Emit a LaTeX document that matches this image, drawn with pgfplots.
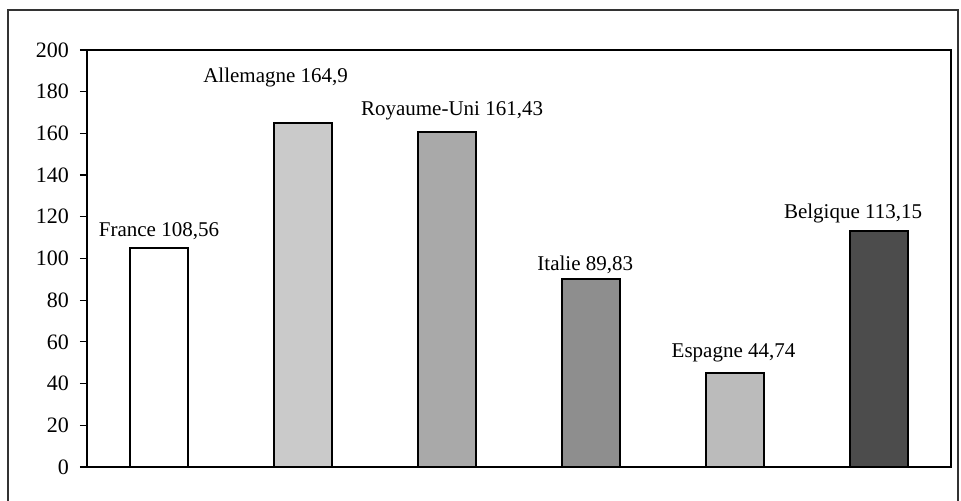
\documentclass[border=0pt]{standalone}
\usepackage{pgfplots}
\pgfplotsset{compat=1.18}
\usepackage{fontspec}
\setmainfont{Liberation Serif}
\definecolor{cAll}{HTML}{CACACA}
\definecolor{cRU}{HTML}{A9A9A9}
\definecolor{cIt}{HTML}{8E8E8E}
\definecolor{cEs}{HTML}{BBBBBB}
\definecolor{cBe}{HTML}{4C4C4C}
\begin{document}
\begin{tikzpicture}
\clip (0pt,0pt) rectangle (480.5pt,250.5pt);
\draw[line width=0.7pt, black!80] (4pt,-3pt) rectangle (479pt,245.5pt);
\begin{axis}[
  at={(43.5pt,17pt)}, anchor=south west,
  width=432pt, height=208.5pt, scale only axis,
  xmin=-0.5, xmax=5.5, ymin=0, ymax=200,
  ytick={0,20,...,200}, xtick=\empty,
  ybar, bar width=29pt, bar shift=0pt,
  axis line style={line width=1pt},
  tick style={black, line width=0.6pt},
  major tick length=3.5pt,
  tick align=outside, ytick pos=left,
  yticklabel style={font=\fontsize{11}{13}\selectfont, xshift=-2pt},
  /pgf/number format/assume math mode=true,
  every axis plot/.append style={draw=black, line width=1pt},
  clip=false,
]
\addplot[fill=white] coordinates {(0,105.2)};
\addplot[fill=cAll] coordinates {(1,165.0)};
\addplot[fill=cRU] coordinates {(2,160.8)};
\addplot[fill=cIt] coordinates {(3,90.0)};
\addplot[fill=cEs] coordinates {(4,45.0)};
\addplot[fill=cBe] coordinates {(5,113.2)};
\begin{scope}[every node/.style={font=\fontsize{10.5}{12}\selectfont, inner sep=0pt}]
\node at (axis cs:0,113.2) {France 108,56};
\node at (axis cs:0.81,187) {Allemagne 164,9};
\node at (axis cs:2.035,171) {Royaume-Uni 161,43};
\node at (axis cs:2.96,97) {Italie 89,83};
\node at (axis cs:3.99,54.7) {Espagne 44,74};
\node at (axis cs:4.82,121.8) {Belgique 113,15};
\end{scope}
\end{axis}
\end{tikzpicture}
\end{document}
